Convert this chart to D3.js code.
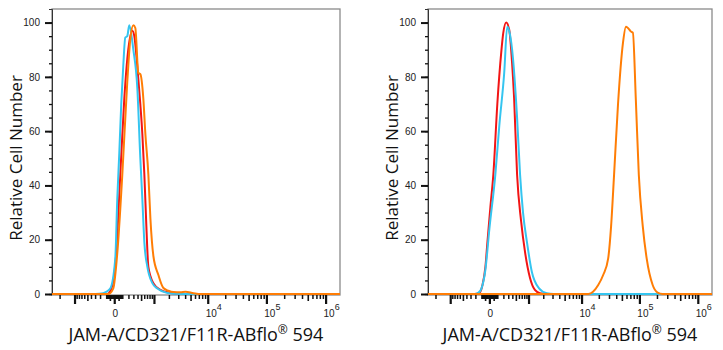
<!DOCTYPE html>
<html>
<head>
<meta charset="utf-8">
<script src="https://cdn.jsdelivr.net/npm/d3@7"></script>
<style>
  body { margin: 0; background: #fff; }
  svg { display: block; }
</style>
</head>
<body>
<div id="chart"></div>
<script>
// histogram data: [fluorescence, relative count]
var leftRed = [[-85,0],[-22,3],[22,15],[72,44],[130,72],[197,90],[277,97],[321,95],[394,84],[477,70],[538,59],[604,44],[675,25],[752,10],[972,4],[1362,1.5],[2141,0.4],[3291,0]];
var leftCyan = [[-299,0],[-146,0.3],[-100,0.8],[-46,2],[11,13],[34,35],[59,52],[85,70],[114,84],[146,94.5],[179,95],[216,99],[299,90],[394,76],[477,50],[538,35],[604,19],[713,10],[925,4],[1182,2],[1874,0.4],[3291,0]];
var leftOrange = [[-72,0],[-11,2],[34,15],[100,44],[179,78],[236,94],[299,99],[345,98],[421,81.5],[477,81],[570,72],[639,59],[752,44],[835,28],[972,14],[1240,7],[1565,2.2],[1960,1.2],[2441,0.7],[3291,0.6],[4058,0.8],[5645,0.3],[7498,0]];

var rightRed = [[-216,0],[-130,0.4],[-85,3.3],[-46,10],[-22,19],[11,32],[46,44],[100,70],[162,89],[197,96],[256,100],[321,97.5],[394,85],[449,72],[538,44],[675,27],[835,15.5],[1073,6],[1362,1.5],[1714,0.3],[2337,0]];
var rightCyan = [[-216,0],[-146,0.5],[-100,2],[-46,9],[0,24],[72,44],[130,62],[216,81.5],[277,98.5],[321,97],[394,90],[538,65],[639,44],[752,30],[925,19],[1182,8],[1638,2.2],[2337,0.3],[3156,0]];
var rightOrange = [[13140,0],[19530,3.3],[23790,7],[29000,13],[32610,25],[36700,44],[42920,70],[52200,92.5],[58730,98.5],[63510,98],[71440,96.7],[77220,96.3],[86850,71.6],[97620,44],[114160,25],[133450,13],[168800,3.3],[205130,0.5],[249310,0]];

var xDomain = [-2780, 1750000];
var yDomain = [0, 105];
var yMajorTicks = [0, 20, 40, 60, 80, 100];
var xLabelValues = [0, 1e4, 1e5, 1e6];
var xLabelExps = ["", "4", "5", "6"];
var xTitle = "JAM-A/CD321/F11R-ABflo";
var yTitle = "Relative Cell Number";

var colors = {red: "#f21515", cyan: "#35c5f0", orange: "#ff7d05"};

var width = 723, height = 350;
var panels = [
  {x0: 52, x1: 340, series: [[leftRed, colors.red], [leftCyan, colors.cyan], [leftOrange, colors.orange]]},
  {x0: 428, x1: 712, series: [[rightRed, colors.red], [rightCyan, colors.cyan], [rightOrange, colors.orange]]}
];
var plotTop = 9, plotBottom = 295;

var svg = d3.select("#chart").append("svg")
    .attr("width", width)
    .attr("height", height);

var y = d3.scaleLinear().domain(yDomain).range([plotBottom - 1, plotTop]);

// tick positions for the biexponential-looking axis
var minorTicks = [], midTicks = [];
for (var k = 1; k <= 5; k++) {
  for (var m = 2; m <= 9; m++) {
    [1, -1].forEach(function(s) {
      var v = s * m * Math.pow(10, k);
      if (v > xDomain[0] && v < xDomain[1]) (m == 5 ? midTicks : minorTicks).push(v);
    });
  }
  if (k < 3) { minorTicks.push(Math.pow(10, k)); minorTicks.push(-Math.pow(10, k)); }
}
var majorTicks = [-1000, 0, 1000, 1e4, 1e5, 1e6];

var yMinor = d3.range(0, 101, 5);

panels.forEach(function(p, pi) {
  var x = d3.scaleSymlog().constant(272).domain(xDomain).range([p.x0, p.x1]);
  var g = svg.append("g");

  g.append("clipPath").attr("id", "clip" + pi)
    .append("rect")
    .attr("x", p.x0).attr("y", plotTop)
    .attr("width", p.x1 - p.x0).attr("height", plotBottom - plotTop + 2);

  // frame
  g.append("rect")
    .attr("x", p.x0).attr("y", plotTop)
    .attr("width", p.x1 - p.x0).attr("height", plotBottom - plotTop)
    .attr("fill", "none")
    .attr("stroke", "#8a8a8a")
    .attr("stroke-width", 1.3);

  // y axis
  g.append("g")
    .attr("transform", "translate(" + p.x0 + ",0)")
    .call(d3.axisLeft(y).tickValues(yMinor).tickSize(3).tickFormat(""))
    .call(function(a) {
      a.select(".domain").attr("stroke", "#333");
      a.selectAll("line").attr("stroke", "#111").attr("stroke-width", 1.3);
    });

  g.append("g")
    .attr("transform", "translate(" + p.x0 + ",0)")
    .call(d3.axisLeft(y).tickValues(yMajorTicks).tickSize(7).tickPadding(5))
    .call(function(a) {
      a.select(".domain").remove();
      a.selectAll("line").attr("stroke", "#111").attr("stroke-width", 2);
      a.selectAll("text").attr("font-family", "Liberation Sans, Arial, sans-serif")
        .attr("font-size", 10).attr("fill", "#222");
    });

  // x axis ticks
  var xa = g.append("g").attr("transform", "translate(0," + plotBottom + ")");
  xa.append("g").call(d3.axisBottom(x).tickValues(minorTicks).tickSize(4).tickFormat(""))
    .call(function(a) { a.select(".domain").remove(); a.selectAll("line").attr("stroke", "#111").attr("stroke-width", 1.5); });
  xa.append("g").call(d3.axisBottom(x).tickValues(midTicks).tickSize(6).tickFormat(""))
    .call(function(a) { a.select(".domain").remove(); a.selectAll("line").attr("stroke", "#111").attr("stroke-width", 1.6); });
  xa.append("g").call(d3.axisBottom(x).tickValues(majorTicks).tickSize(9).tickFormat(""))
    .call(function(a) { a.select(".domain").remove(); a.selectAll("line").attr("stroke", "#111").attr("stroke-width", 2.2); });

  // x labels with superscripts
  var lab = g.append("g")
    .attr("font-family", "Liberation Sans, Arial, sans-serif")
    .attr("font-size", 10)
    .attr("fill", "#222")
    .selectAll("text")
    .data(xLabelValues)
    .enter().append("text")
    .attr("x", function(d, i) { return x(d) + (i ? 6 : 1); })
    .attr("y", 317)
    .attr("text-anchor", "middle");
  lab.append("tspan").text(function(d, i) { return i ? "10" : "0"; });
  lab.append("tspan")
    .attr("dy", -7)
    .attr("font-size", 9)
    .text(function(d, i) { return xLabelExps[i]; });

  // histograms
  var line = d3.line()
    .x(function(d) { return x(d[0]); })
    .y(function(d) { return y(d[1]); })
    .curve(d3.curveMonotoneX);

  g.append("g").attr("clip-path", "url(#clip" + pi + ")")
    .selectAll("path")
    .data(p.series)
    .enter().append("path")
    .attr("d", function(s) { return line([[xDomain[0], 0]].concat(s[0], [[xDomain[1], 0]])); })
    .attr("fill", "none")
    .attr("stroke", function(s) { return s[1]; })
    .attr("stroke-width", 2)
    .attr("stroke-linejoin", "round");

  // titles
  var xt = g.append("text")
    .attr("x", (p.x0 + p.x1) / 2)
    .attr("y", 341)
    .attr("text-anchor", "middle")
    .attr("font-family", "Open Sans, sans-serif")
    .attr("font-size", 18)
    .attr("fill", "#111");
  xt.append("tspan").text(xTitle);
  xt.append("tspan").attr("dy", -7).attr("font-size", 12).text("\u00ae");
  xt.append("tspan").attr("dy", 7).text(" 594");

  g.append("text")
    .attr("transform", "translate(" + (p.x0 - 30) + "," + 158 + ") rotate(-90)")
    .attr("text-anchor", "middle")
    .attr("font-family", "Open Sans, sans-serif")
    .attr("font-size", 17)
    .attr("fill", "#111")
    .text(yTitle);
});
</script>
</body>
</html>
